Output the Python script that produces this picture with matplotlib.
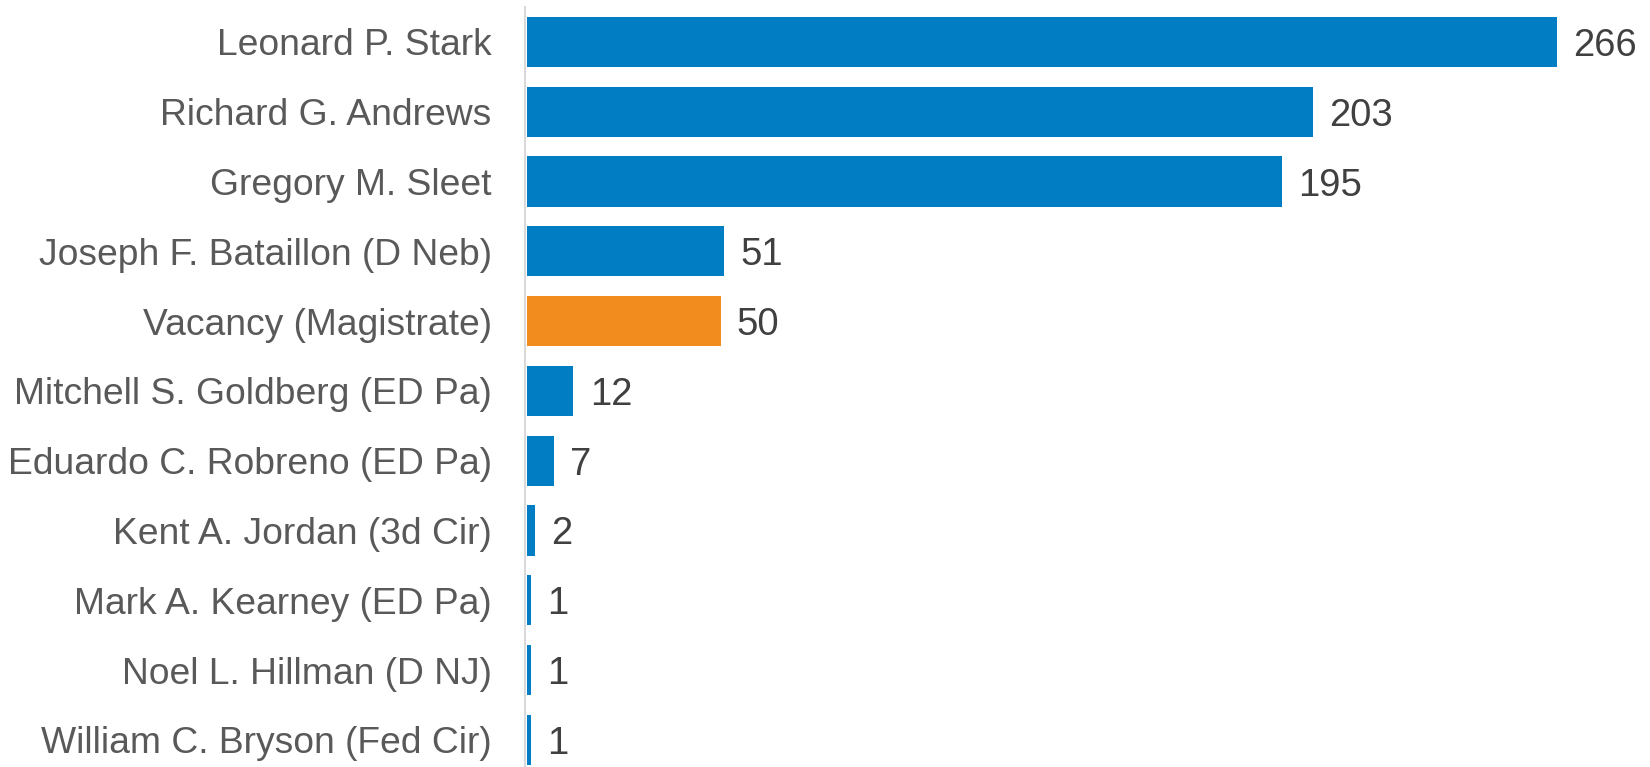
import matplotlib.pyplot as plt

plt.rcParams['font.family'] = ['Liberation Sans', 'DejaVu Sans']

judges = ['Leonard P. Stark', 'Richard G. Andrews', 'Gregory M. Sleet',
          'Joseph F. Bataillon (D Neb)', 'Vacancy (Magistrate)',
          'Mitchell S. Goldberg (ED Pa)', 'Eduardo C. Robreno (ED Pa)',
          'Kent A. Jordan (3d Cir)', 'Mark A. Kearney (ED Pa)',
          'Noel L. Hillman (D NJ)', 'William C. Bryson (Fed Cir)']
cases = [266, 203, 195, 51, 50, 12, 7, 2, 1, 1, 1]
highlight = 'Vacancy (Magistrate)'

W, H = 1650, 767
fig = plt.figure(figsize=(W / 100, H / 100), dpi=100)
ax = fig.add_axes([525 / W, 0, 1 - 525 / W, 1 - 7 / H])

colors = ['#F28C1E' if j == highlight else '#007DC3' for j in judges]
pos = list(range(len(judges)))
ax.barh(pos, cases, height=0.72, color=colors, left=0.5)

slot = 69.8
ax.set_ylim(-0.5 + 760 / slot, -0.5)
ax.set_xlim(0, (W - 525) / 3.872)

ax.set_yticks(pos)
ax.set_yticklabels(judges, fontsize=26.8, color='#595959')
for t in ax.get_yticklabels():
    t.set_verticalalignment('center_baseline')
ax.tick_params(axis='y', length=0, pad=24)
ax.set_xticks([])
for s in ['top', 'right', 'bottom']:
    ax.spines[s].set_visible(False)
ax.spines['left'].set_color('#D9D9D9')
ax.spines['left'].set_linewidth(1.5)

for p, v in zip(pos, cases):
    ax.text(v + 0.5 + 4.2, p, str(v), va='center_baseline', ha='left',
            fontsize=27.5, color='#404040')

fig.savefig('out.png', dpi=100)
